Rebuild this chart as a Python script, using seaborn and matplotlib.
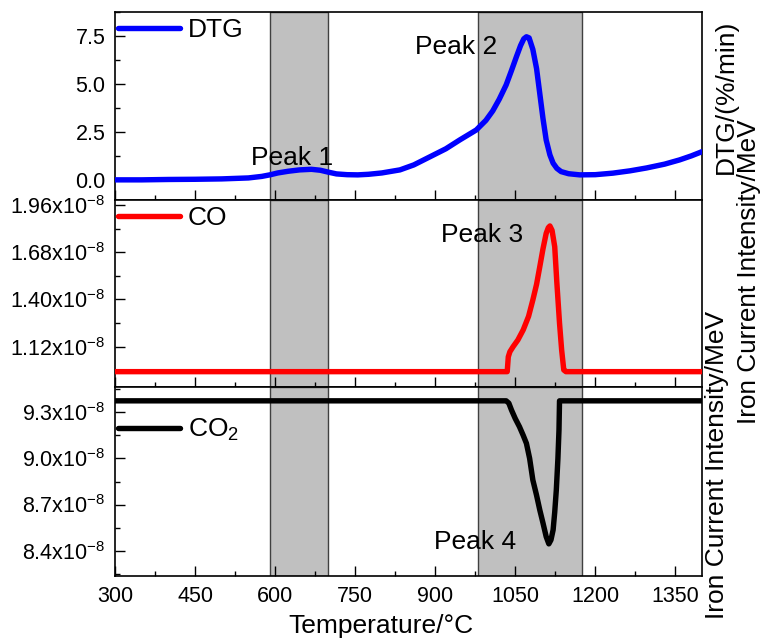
import matplotlib
matplotlib.use("Agg")
import matplotlib.pyplot as plt
from matplotlib.ticker import FixedLocator, FuncFormatter, MultipleLocator
import seaborn as sns
import pandas as pd

# ---------------- data ----------------
dtg_T = [300, 350, 400, 450, 500, 550, 575, 590, 605, 625, 646, 668, 685, 700, 715,
         735, 755, 775, 800, 834, 860, 890, 920, 946, 977, 995, 1008, 1020, 1033,
         1043, 1052, 1060, 1066, 1071, 1076, 1083, 1090, 1096, 1102, 1108, 1115,
         1121, 1128, 1136, 1150, 1171, 1200, 1233, 1265, 1296, 1330, 1358, 1380, 1400]
dtg_val = [0.0, 0.0, 0.02, 0.03, 0.05, 0.1, 0.18, 0.26, 0.36, 0.45, 0.52, 0.55, 0.5,
           0.4, 0.31, 0.27, 0.26, 0.29, 0.36, 0.52, 0.78, 1.2, 1.62, 2.08, 2.6, 3.1,
           3.6, 4.2, 4.95, 5.7, 6.4, 7.0, 7.35, 7.46, 7.4, 6.8, 5.8, 4.5, 3.2, 2.08,
           1.3, 0.87, 0.6, 0.43, 0.32, 0.26, 0.27, 0.35, 0.47, 0.62, 0.82, 1.04, 1.25, 1.47]

co_T = [300, 1035, 1037, 1040, 1046, 1055, 1065, 1075, 1083, 1090, 1096, 1102, 1108,
        1112, 1115, 1119, 1124, 1128, 1133, 1137, 1141, 1145, 1400]
co_val = [0.972e-8, 0.972e-8, 1.06e-8, 1.09e-8, 1.12e-8, 1.16e-8, 1.22e-8, 1.30e-8,
          1.397e-8, 1.49e-8, 1.594e-8, 1.70e-8, 1.792e-8, 1.826e-8, 1.836e-8, 1.81e-8,
          1.713e-8, 1.50e-8, 1.26e-8, 1.10e-8, 0.982e-8, 0.972e-8, 0.972e-8]

co2_T = [300, 1033, 1038, 1043, 1050, 1058, 1065, 1071, 1077, 1083, 1090, 1096, 1102,
         1108, 1113, 1117, 1121, 1124, 1127, 1130, 1132, 1133, 1400]
co2_val = [9.375e-8, 9.375e-8, 9.36e-8, 9.315e-8, 9.26e-8, 9.206e-8, 9.15e-8, 9.098e-8,
           9.0e-8, 8.86e-8, 8.76e-8, 8.665e-8, 8.58e-8, 8.491e-8, 8.444e-8, 8.47e-8,
           8.535e-8, 8.65e-8, 8.795e-8, 9.0e-8, 9.185e-8, 9.375e-8, 9.375e-8]

bands = [(590, 700), (980, 1175)]

x_ticks = [300, 450, 600, 750, 900, 1050, 1200, 1350]
dtg_ticks = [0.0, 2.5, 5.0, 7.5]
co_ticks = [1.12e-8, 1.40e-8, 1.68e-8, 1.96e-8]
co2_ticks = [8.4e-8, 8.7e-8, 9.0e-8, 9.3e-8]

peaks = [("Peak 1", 0, 631, 1.15), ("Peak 2", 0, 940, 6.9),
         ("Peak 3", 1, 987, 1.782e-8), ("Peak 4", 2, 974, 8.459e-8)]

# ---------------- style ----------------
sns.set_style("ticks")
plt.rcParams["font.family"] = ["Liberation Sans", "DejaVu Sans"]
plt.rcParams["mathtext.fontset"] = "custom"
plt.rcParams["mathtext.rm"] = "Liberation Sans"
plt.rcParams["axes.linewidth"] = 1.2
for key in ["text.color", "axes.labelcolor", "xtick.color", "ytick.color",
            "axes.edgecolor", "xtick.labelcolor", "ytick.labelcolor"]:
    plt.rcParams[key] = "black"

fig = plt.figure(figsize=(7.63, 6.41), dpi=100)
L, R = 115 / 763, 702 / 763
edges = [12, 200, 387, 576]
axes = []
for i in range(3):
    top = 1 - edges[i] / 641
    bot = 1 - edges[i + 1] / 641
    axes.append(fig.add_axes([L, bot, R - L, top - bot]))

series = [
    (dtg_T, dtg_val, "#0000ff", "DTG"),
    (co_T, co_val, "#ff0000", "CO"),
    (co2_T, co2_val, "#000000", "CO$_2$"),
]
ylims = [(-1.05, 8.75), (0.881e-8, 1.99e-8), (8.235e-8, 9.465e-8)]
yticks = [dtg_ticks, co_ticks, co2_ticks]
yminor = [1.25, 0.14e-8, 0.15e-8]
fmts = [
    lambda v, p: f"{v:.1f}",
    lambda v, p: f"{v*1e8:.2f}x10$^{{\\mathregular{{-8}}}}$",
    lambda v, p: f"{v*1e8:.1f}x10$^{{\\mathregular{{-8}}}}$",
]
leg_y = [0.904, 0.904, 0.772]

for i, ax in enumerate(axes):
    for a, b in bands:
        ax.axvspan(a, b, facecolor="#c0c0c0", edgecolor="#404040", lw=1.0, zorder=0)
    T, V, c, lab = series[i]
    df = pd.DataFrame({"T": T, "V": V})
    sns.lineplot(data=df, x="T", y="V", ax=ax, color=c, lw=3.9, sort=False,
                 estimator=None, label=lab, zorder=3)
    ax.set_xlim(300, 1400)
    ax.set_ylim(*ylims[i])
    ax.xaxis.set_major_locator(FixedLocator(x_ticks))
    ax.xaxis.set_minor_locator(MultipleLocator(75))
    ax.yaxis.set_major_locator(FixedLocator(yticks[i]))
    ax.yaxis.set_minor_locator(MultipleLocator(yminor[i]))
    ax.yaxis.set_major_formatter(FuncFormatter(fmts[i]))
    ax.tick_params(which="both", direction="in", top=False, right=False, width=1.0,
                   color="black")
    ax.tick_params(which="major", length=7, labelsize=15.5, pad=7, labelcolor="black")
    ax.tick_params(which="minor", length=3.5)
    ax.set_xlabel("")
    ax.set_ylabel("")
    if i < 2:
        ax.tick_params(labelbottom=False)
    leg = ax.legend(loc="center left", bbox_to_anchor=(0.0, leg_y[i]), frameon=False,
                    fontsize=19, handlelength=2.35, handletextpad=0.3, borderpad=0.1,
                    borderaxespad=0.0)
    for t in leg.get_texts():
        t.set_color("black")
    for sp in ["top", "right", "left", "bottom"]:
        ax.spines[sp].set_visible(True)
        ax.spines[sp].set_color("black")

for txt, k, x, y in peaks:
    axes[k].text(x, y, txt, ha="center", va="center", fontsize=19, zorder=4,
                 color="black")

fig.text(0.4993, 0.004, "Temperature/°C", ha="center", va="bottom", fontsize=19,
         color="black")
fig.text(0.951, 0.849, "DTG/(%/min)", rotation=90, ha="center", va="center",
         fontsize=19, color="black")
fig.text(0.982, 0.576, "Iron Current Intensity/MeV", rotation=90, ha="center",
         va="center", fontsize=18.8, color="black")
fig.text(0.940, 0.2746, "Iron Current Intensity/MeV", rotation=90, ha="center",
         va="center", fontsize=19, color="black")

fig.savefig("out.png", dpi=100)
